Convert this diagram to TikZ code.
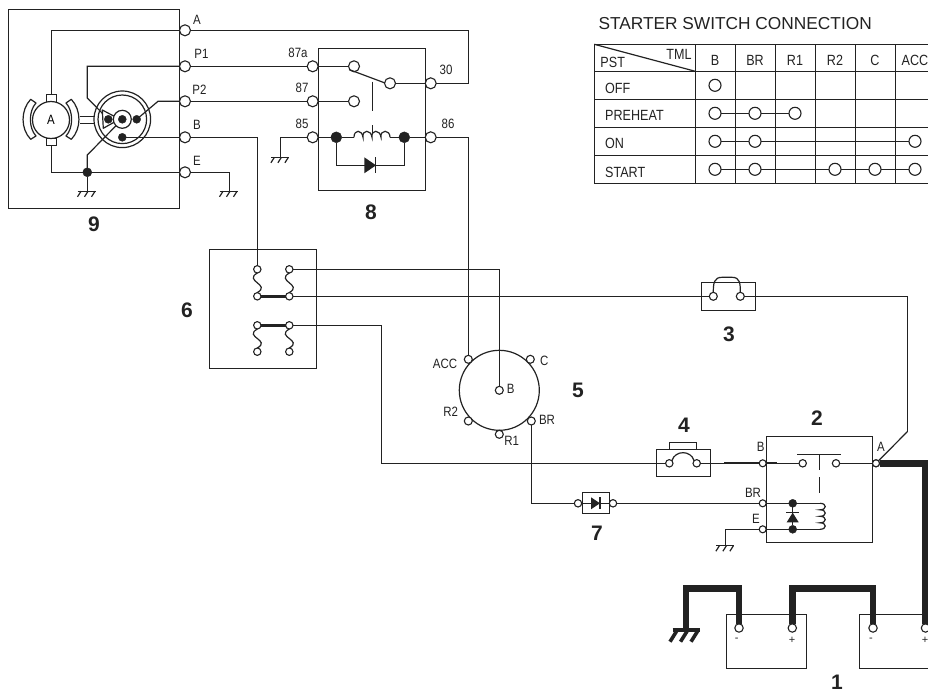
\documentclass[tikz,border=0pt]{standalone}
\usepackage{fontspec}
\setmainfont{Liberation Sans}
\newfontfamily\lblfont[FakeStretch=0.85]{Liberation Sans}
\definecolor{ink}{HTML}{222222}
\tikzset{
  wire/.style={draw=ink,line width=1.2pt},
  boxn/.style={draw=ink,line width=1.2pt,inner sep=0pt,outer sep=0pt},
  term/.style={circle,draw=ink,fill=white,line width=1.1pt,inner sep=0pt,outer sep=0pt,minimum size=#1},
  term/.default=11pt,
  dotn/.style={circle,fill=ink,draw=ink,inner sep=0pt,outer sep=0pt,minimum size=#1},
  dotn/.default=9pt,
  lb/.style={font=\fontsize{13.5}{14}\selectfont\lblfont,inner sep=0pt,text=ink},
  tb/.style={font=\fontsize{14.8}{15}\selectfont\lblfont,inner sep=0pt,text=ink},
  sg/.style={font=\fontsize{11}{12}\selectfont,inner sep=0pt,text=ink},
  numlab/.style={font=\fontsize{21}{22}\selectfont\bfseries,inner sep=0pt,text=ink},
  thick wire/.style={draw=ink,line width=6.5pt,line join=miter},
  gnd/.pic={\draw[wire] (-9.7,0)--(8.7,0);
    \foreach \g in {-6.3,0.7,7.7}{\draw[wire] (\g,0)--++(-3.5,5.5);}},
}
\begin{document}
\begin{tikzpicture}[x=1pt,y=-1pt]
\clip (0,0) rectangle (928,696);
% ---------- boxes
\node[boxn,minimum width=171pt,minimum height=199pt] (box9) at (93.8,108.8) {};
\node[boxn,minimum width=106.6pt,minimum height=141.6pt] (box8) at (372,119.5) {};
\node[boxn,minimum width=107pt,minimum height=119pt] (box6) at (262.8,308.8) {};
\node[boxn,minimum width=53.6pt,minimum height=28pt] (box3) at (728.5,296.3) {};
\node[boxn,minimum width=54pt,minimum height=27pt] (box4) at (683.3,462.8) {};
\node[boxn,minimum width=27pt,minimum height=7pt] (tab4) at (683.3,445.8) {};
\node[boxn,minimum width=106pt,minimum height=106pt] (box2) at (819.3,489.3) {};
\node[boxn,minimum width=27pt,minimum height=21.4pt] (box7) at (595.8,503) {};
\node[boxn,minimum width=80pt,minimum height=54pt] (bat1) at (766.3,641.3) {};
\node[boxn,minimum width=80pt,minimum height=54pt] (bat2) at (899.3,641.3) {};
\node[boxn,circle,minimum size=80pt] (sw5) at (499.3,390.3) {};
% ---------- component 9 (motor + solenoid)
\node[boxn,minimum width=10pt,minimum height=8pt] (tabT) at (51.3,98.3) {};
\node[boxn,minimum width=10pt,minimum height=7pt] (tabB) at (51.3,141.8) {};
\node[boxn,circle,fill=white,minimum size=37pt,font=\fontsize{13.5}{14}\selectfont\lblfont] (motor) at (51,120) {A};
\draw[wire,line join=round] (30.7,99.3) .. controls (20.5,110) and (20.5,129) .. (30.7,139.3)
   -- (36,136) .. controls (28.5,128) and (28.5,111) .. (36,103) -- cycle;
\draw[wire,line join=round] (71.3,99.3) .. controls (81.5,110) and (81.5,129) .. (71.3,139.3)
   -- (66,136) .. controls (73.5,128) and (73.5,111) .. (66,103) -- cycle;
\coordinate (sh1a) at (80,116.3); \coordinate (sh1b) at (95,116.3);
\coordinate (sh2a) at (80,123.3); \coordinate (sh2b) at (95,123.3);
\draw[wire] (sh1a)--(sh1b); \draw[wire] (sh2a)--(sh2b);
\node[boxn,circle,minimum size=56.6pt] (rotO) at (122.3,119.3) {};
\node[boxn,circle,minimum size=48.6pt] (rotI) at (122.3,119.3) {};
\node[dotn=8pt] (d1) at (108.3,119.3) {};
\node[dotn=8pt] (d3) at (136.7,119.3) {};
\node[dotn=8pt] (d4) at (122.3,137.3) {};
\node[term=11pt] (tA) at (185,30.3) {};
\node[term=11pt] (tP1) at (185,66.3) {};
\node[term=11pt] (tP2) at (185,101.3) {};
\node[term=11pt] (tB) at (185,137.3) {};
\node[term=11pt] (tE) at (185,172.3) {};
\node[dotn=9pt] (dE) at (87.3,172.3) {};
\coordinate (p1a) at (87.3,66.3); \coordinate (p1b) at (87.3,98);
\coordinate (p2a) at (158,101.3);
\coordinate (ea) at (87.3,155);
\coordinate (g9) at (87.3,191.3); \coordinate (gE) at (229.3,191.3);
\draw[wire] (tA) -| (tabT);
\draw[wire] (tP1) -- (p1a) -- (p1b) -- (d1);
\draw[wire] (tP2) -- (p2a) -- (d3);
\draw[wire] (tB) -- (d4);
\draw[wire] (tE) -| (tabB);
\draw[wire] (dE) -- (g9);
\node[dotn=8pt] (d2) at (122.3,119.3) {};
\draw[wire] (dE) -- (ea) -- (d2);
\draw[wire,fill=white,line join=round] (102.3,110) -- (115,116.7) -- (115,121.7) -- (103.3,128.3) -- cycle;
\node[dotn=8pt] at (108.3,119.3) {};
\node[boxn,circle,fill=white,minimum size=18pt] (ring) at (122.3,119.3) {};
\node[dotn=8pt] (d2b) at (122.3,119.3) {};
\pic at (g9) {gnd};
\pic at (gE) {gnd};
\draw[wire] (tE) -| (gE);
\node[lb] (lA) at (197,20) {A};
\node[lb] (lP1) at (201.5,54) {P1};
\node[lb] (lP2) at (199.5,90) {P2};
\node[lb] (lB) at (197,125) {B};
\node[lb] (lE) at (197,161) {E};
\node[numlab] (n9) at (94,224) {9};
% ---------- component 8 (relay)
\node[term=11pt] (t87a) at (312.7,66.3) {};
\node[term=11pt] (t87) at (312.7,101.3) {};
\node[term=11pt] (t85) at (312.7,137.3) {};
\node[term=11pt] (t30) at (430.7,83.3) {};
\node[term=11pt] (t86) at (430.7,137.3) {};
\node[term=11pt] (k1) at (354,66.3) {};
\node[term=11pt] (k2) at (354,101.3) {};
\node[term=11pt] (k3) at (390,83.3) {};
\node[dotn=11pt] (dL) at (336.3,137.3) {};
\node[dotn=11pt] (dR) at (404.3,137.3) {};
\coordinate (cL) at (354,137.3); \coordinate (cR) at (390,137.3);
\coordinate (rodA) at (372.3,81.7); \coordinate (rodB) at (372.3,110.7);
\coordinate (stemA) at (372.3,125); \coordinate (stemB) at (372.3,134);
\coordinate (dioL) at (336.3,165.3); \coordinate (dioR) at (404.3,165.3);
\coordinate (armS) at (349,69.5); \coordinate (armE) at (385,83);
\coordinate (a30) at (468.3,83.3); \coordinate (a0) at (468.3,30.3);
\draw[wire] (tP1) -- (t87a); \draw[wire] (tP2) -- (t87);
\draw[wire] (t87a) -- (k1); \draw[wire] (t87) -- (k2);
\draw[wire] (k3) -- (t30); \draw[wire] (armS) -- (armE);
\draw[wire] (rodA) -- (rodB); \draw[wire] (stemA) -- (stemB);
\draw[wire] (t85) -- (dL) -- (cL);
\draw[wire] (cL) .. controls +(0,-8) and +(-1,-8) .. ++(9,0)
  .. controls +(-1,-8) and +(-1,-8) .. ++(9,0)
  .. controls +(-1,-8) and +(-1,-8) .. ++(9,0)
  .. controls +(-1,-8) and +(0,-8) .. (cR);
\draw[wire] (cR) -- (dR) -- (t86);
\draw[wire] (dL) -- (dioL) -- (dioR) -- (dR);
\fill[ink] (364.3,157.3) -- (376,165.3) -- (364.3,173.3) -- cycle;
\draw[wire] (375.7,157.3) -- (375.7,173.3);
\draw[wire] (tA) -- (a0) -- (a30) -- (t30);
\coordinate (g85) at (280.7,157.3);
\draw[wire] (t85) -| (g85);
\pic at (g85) {gnd};
\node[lb] (l87a) at (298,53) {87a};
\node[lb] (l87) at (302,88) {87};
\node[lb] (l85) at (302,124) {85};
\node[lb] (l30) at (446,70) {30};
\node[lb] (l86) at (448,124) {86};
\node[numlab] (n8) at (371,212) {8};
% ---------- component 6 (fuse block)
\foreach \n/\x/\y in {a/257.3/269.3,b/257.3/296.3,c/257.3/325.3,d/257.3/351.7,e/289.3/269.3,f/289.3/296.3,g/289.3/325.3,h/289.3/351.7}
  {\node[term=7.4pt] (s\n) at (\x,\y) {};}
\foreach \p/\q in {sa/sb,se/sf,sc/sd,sg/sh}
  {\draw[wire] (\p.south) .. controls +(-14,8) and +(14,-8) .. (\q.north);}
\draw[draw=ink,line width=3pt] (sb) -- (sf);
\draw[draw=ink,line width=3pt] (sc) -- (sg);
\coordinate (bt) at (257.3,137.3);
\draw[wire] (tB) -- (bt) -- (sa);
\node[numlab] (n6) at (187,310) {6};
% ---------- component 5 (starter switch)
\node[term=8pt] (sACC) at (468.3,359.3) {};
\node[term=8pt] (sC) at (530.3,359.3) {};
\node[term=8pt] (sR2) at (468.3,421) {};
\node[term=8pt] (sBR) at (531.3,421) {};
\node[term=8pt] (sR1) at (499.3,434.3) {};
\node[term=8pt] (sB) at (499.3,390.3) {};
\node[lb] (lACC) at (445,364) {ACC};
\node[lb] (lC) at (544.3,361) {C};
\node[lb] (lBB) at (510.7,389) {B};
\node[lb] (lR2) at (450.7,412) {R2};
\node[lb] (lBR) at (547,420) {BR};
\node[lb] (lR1) at (511.7,441) {R1};
\node[numlab] (n5) at (578,390) {5};
\coordinate (a86) at (468.3,137.3);
\draw[wire] (t86) -- (a86) -- (sACC);
\draw[wire] (se) -| (sB);
% ---------- component 3
\node[term=8pt] (f3a) at (713.3,296.3) {};
\node[term=8pt] (f3b) at (740.3,296.3) {};
\draw[wire] (f3a.north) .. controls +(0,-9) and +(-8,0) .. (722,277.3) -- (732,277.3) .. controls +(8,0) and +(0,-9) .. (f3b.north);
\coordinate (c908) at (907.3,296.3); \coordinate (c431) at (907.3,431.7);
\draw[wire] (sf) -- (f3a);
\draw[wire] (f3b) -- (c908) -- (c431);
\node[numlab] (n3) at (729,334) {3};
% ---------- component 4
\node[term=7.4pt] (f4a) at (669.3,463.3) {};
\node[term=7.4pt] (f4b) at (696.7,463.3) {};
\draw[wire] (f4a.north east) .. controls (675,450) and (691,450) .. (f4b.north west);
\coordinate (w6a) at (381.3,325.3); \coordinate (w6b) at (381.3,463.3);
\draw[wire] (sg) -- (w6a) -- (w6b) -- (f4a);
\node[numlab] (n4) at (684,425) {4};
% ---------- component 2 (magnet switch)
\node[term=7pt] (mB) at (762.7,463.3) {};
\node[term=7pt] (mBR) at (762.7,503.3) {};
\node[term=7pt] (mE) at (762.7,529.3) {};
\node[term=7pt] (mA) at (876,463.3) {};
\node[term=7.4pt] (kL) at (802.7,463.3) {};
\node[term=7.4pt] (kR) at (836,463.3) {};
\draw[wire] (f4b) -- (mB);
\coordinate (tkA) at (724,463.3); \coordinate (tkB) at (776.7,463.3);
\draw[draw=ink,line width=2pt] (tkA) -- (mB);
\draw[draw=ink,line width=2pt] (mB) -- (tkB);
\draw[wire] (tkB) -- (kL);
\draw[wire] (kR) -- (mA);
\coordinate (brA) at (797.3,454.3); \coordinate (brB) at (841,454.3);
\coordinate (brS) at (819.3,454.3); \coordinate (brT) at (819.3,470);
\coordinate (brU) at (819.3,477.3); \coordinate (brV) at (819.3,492.7);
\draw[wire] (brA) -- (brB); \draw[wire] (brS) -- (brT); \draw[wire] (brU) -- (brV);
\node[dotn=8pt] (mD1) at (792.7,503.3) {};
\node[dotn=8pt] (mD2) at (792.7,529.3) {};
\coordinate (cT) at (820,503.3); \coordinate (cB) at (820,529.3);
\draw[wire] (mBR) -- (cT);
\draw[wire] (mE) -- (cB);
\draw[wire] (cT) .. controls +(7,0) and +(7,0) .. ++(0,6.5)
  .. controls +(7,0) and +(7,0) .. ++(0,6.5)
  .. controls +(7,0) and +(7,0) .. ++(0,6.5)
  .. controls +(7,0) and +(7,0) .. (cB);
\draw[wire] (mD1) -- (mD2);
\fill[ink] (792.7,512.7) -- (798.7,522.3) -- (786.7,522.3) -- cycle;
\draw[wire] (786.2,512.7) -- (799.2,512.7);
\coordinate (g2) at (725.7,545.7);
\draw[wire] (mE) -| (g2);
\pic at (g2) {gnd};
\draw[wire] (c431) -- (mA);
\node[lb] (lmB) at (760.7,447) {B};
\node[lb] (lmA) at (881,447) {A};
\node[lb] (lmBR) at (753,493) {BR};
\node[lb] (lmE) at (756,519) {E};
\node[numlab] (n2) at (817,418) {2};
% ---------- component 7
\node[term=7.4pt] (d7a) at (578,503.3) {};
\node[term=7.4pt] (d7b) at (613,503.3) {};
\draw[wire] (sBR) |- (d7a);
\draw[wire] (d7a) -- (d7b);
\fill[ink] (591,497.3) -- (600,503.3) -- (591,509.3) -- cycle;
\draw[wire] (600,497.3) -- (600,509.3);
\draw[wire] (d7b) -- (mBR);
\node[numlab] (n7) at (597,533) {7};
% ---------- batteries
\node[term=8.4pt] (bm1) at (739,628) {};
\node[term=8.4pt] (bp1) at (792.3,628) {};
\node[term=8.4pt] (bm2) at (873,628) {};
\node[term=8.4pt] (bp2) at (925.5,628) {};
\coordinate (gt) at (686,588.3); \coordinate (gb) at (686,628);
\coordinate (b1t) at (739,588.3); \coordinate (b2t) at (792.3,588.3); \coordinate (b3t) at (873,588.3);
\coordinate (ctr) at (925.5,463.3);
\draw[thick wire] (bm1.north) -- (b1t) -- (gt) -- (gb);
\draw[thick wire] (bp1.north) -- (b2t) -- (b3t) -- (bm2.north);
\draw[thick wire] (mA.east) -- (ctr) -- (bp2.north);
\node[term=7pt] at (876,463.3) {};
\draw[draw=ink,line width=4pt] (672.5,629.7) -- (700,629.7);
\foreach \g in {677.5,688,698.5}{\draw[draw=ink,line width=3.6pt] (\g,629.7) -- ++(-7.5,12);}
\node[sg] (lm1) at (736.7,640) {-};
\node[sg] (lp1) at (792,640) {+};
\node[sg] (lm2) at (871,640) {-};
\node[sg] (lp2) at (925,640) {+};
\node[numlab] (n1) at (837,682) {1};
% ---------- table
\node[anchor=west,inner sep=0pt,text=ink,font=\fontsize{17.3}{18}\selectfont] (title) at (598.3,23.3) {STARTER SWITCH CONNECTION};
\coordinate (tlA) at (594.3,44.3); \coordinate (tlB) at (695.3,71.3);
\foreach \y in {44.3,71.3,99.3,127.3,155.3,183.3}{\draw[wire] (594.3,\y) -- (930,\y);}
\foreach \x in {594.3,695.3,735.3,775.3,815.3,855.3,895.3}{\draw[wire] (\x,44.3) -- (\x,183.3);}
\draw[wire] (tlA) -- (tlB);
\node[tb] (hT) at (679,54) {TML};
\node[tb] (hP) at (612.7,62) {PST};
\foreach \t/\x in {B/715,BR/755,R1/795,R2/835,C/875,ACC/915}{\node[tb] (h\t) at (\x,60.7) {\t};}
\node[tb,anchor=west] (rOFF) at (605,88) {OFF};
\node[tb,anchor=west] (rPRE) at (605,115) {PREHEAT};
\node[tb,anchor=west] (rON) at (605,143) {ON};
\node[tb,anchor=west] (rST) at (605,172) {START};
\foreach \n/\x/\y in {o1/715/85.3,
   p1/715/113.3,p2/755/113.3,p3/795/113.3,
   q1/715/141.3,q2/755/141.3,q6/915/141.3,
   s1/715/169.3,s2/755/169.3,s4/835/169.3,s5/875/169.3,s6/915/169.3}
  {\node[term=12pt] (\n) at (\x,\y) {};}
\draw[wire] (p1)--(p2); \draw[wire] (p2)--(p3);
\draw[wire] (q1)--(q2); \draw[wire] (q2)--(q6);
\draw[wire] (s1)--(s2); \draw[wire] (s2)--(s4); \draw[wire] (s4)--(s5); \draw[wire] (s5)--(s6);
\end{tikzpicture}
\end{document}
